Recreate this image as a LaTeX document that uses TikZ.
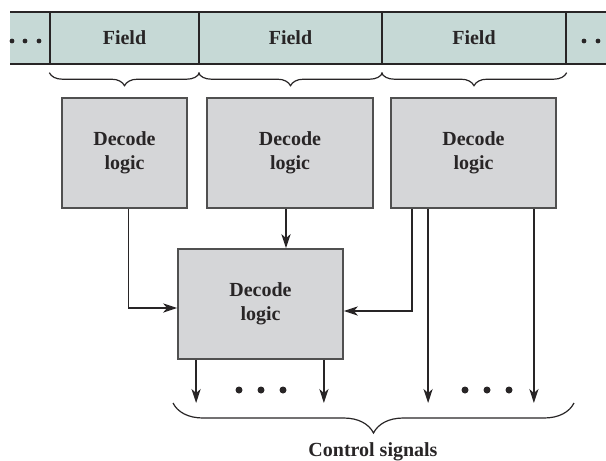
\documentclass[tikz,border=0pt]{standalone}
\usepackage{fontspec}
\setmainfont{Liberation Serif}
\usepackage{xcolor}
\usetikzlibrary{arrows.meta,positioning,calc,decorations.pathreplacing}
\definecolor{regfill}{RGB}{198,217,214}
\definecolor{boxfill}{RGB}{213,214,216}
\definecolor{inkline}{RGB}{40,37,38}
\definecolor{boxline}{RGB}{80,80,80}
\tikzset{
  fieldcell/.style = {draw=inkline, fill=regfill, line width=0.7pt,
                      minimum height=26pt, inner sep=0pt, font=\bfseries},
  decbox/.style    = {draw=boxline, fill=boxfill, line width=0.9pt,
                      minimum height=55pt, inner sep=0pt, align=center,
                      font=\bfseries},
  sig/.style       = {-{Stealth[length=7pt,width=4.6pt,inset=2pt]}, line width=0.7pt, inkline},
  grp/.style       = {decorate, decoration={brace, mirror, amplitude=#1},
                      line width=0.6pt, inkline},
  lab/.style       = {font=\bfseries, text=inkline},
}
\begin{document}
\begin{tikzpicture}[x=0.5pt, y=-0.5pt, every node/.style={text=inkline},
                    font=\fontsize{11}{13.5}\selectfont]
  \useasboundingbox (0,0) rectangle (606,461);
  % instruction register
  \fill[regfill] (10,12) rectangle (606,64);
  \draw[inkline, line width=0.7pt] (10,12) -- (606,12) (10,64) -- (606,64);
  \node[fieldcell, minimum width=74.5pt] (fld1) at (124.5,38) {Field};
  \node[fieldcell, minimum width=91.5pt] (fld2) at (290.5,38) {Field};
  \node[fieldcell, minimum width=92pt]   (fld3) at (474,38)   {Field};
  \foreach \x in {12,25,39,584,598}
    \fill[inkline] (\x,41) circle (1.2pt);
  % field braces
  \foreach \f in {fld1,fld2,fld3}
    \draw[grp=6.5pt] ([yshift=-4pt]\f.south west) -- ([yshift=-4pt]\f.south east);
  % decoders
  \node[decbox, minimum width=62.5pt] (dec1) at (124.5,153) {Decode\\logic};
  \node[decbox, minimum width=83pt]   (dec2) at (290,153)   {Decode\\logic};
  \node[decbox, minimum width=82.5pt] (dec3) at (473.5,153) {Decode\\logic};
  \node[decbox, minimum width=82.5pt] (dec4) at (260.5,304) {Decode\\logic};
  % signal level
  \coordinate (out) at (0,403);
  \draw[sig] ([xshift=2pt]dec1.south) |- ([yshift=-2pt]dec4.west);
  \draw[sig] ([xshift=-2pt]dec2.south) -- ([xshift=-2pt]dec2.south |- dec4.north);
  \draw[sig] ([xshift=11pt]dec3.south west) |- ([yshift=-3.5pt]dec4.east);
  \draw[sig] ([xshift=19pt]dec3.south west) -- ([xshift=19pt]dec3.south west |- out);
  \draw[sig] ([xshift=-11.5pt]dec3.south east) -- ([xshift=-11.5pt]dec3.south east |- out);
  \draw[sig] ([xshift=9.5pt]dec4.south west) -- ([xshift=9.5pt]dec4.south west |- out);
  \draw[sig] ([xshift=-10pt]dec4.south east) -- ([xshift=-10pt]dec4.south east |- out);
  \foreach \x in {239,261,283,465,487,509}
    \fill[inkline] (\x,390) circle (1.75pt);
  % output brace
  \coordinate (bl) at (173,403);
  \coordinate (br) at (574,403);
  \draw[grp=15pt] (bl) -- (br);
  \node[lab] (ctl) at (373,452) {Control signals};
\end{tikzpicture}
\end{document}
